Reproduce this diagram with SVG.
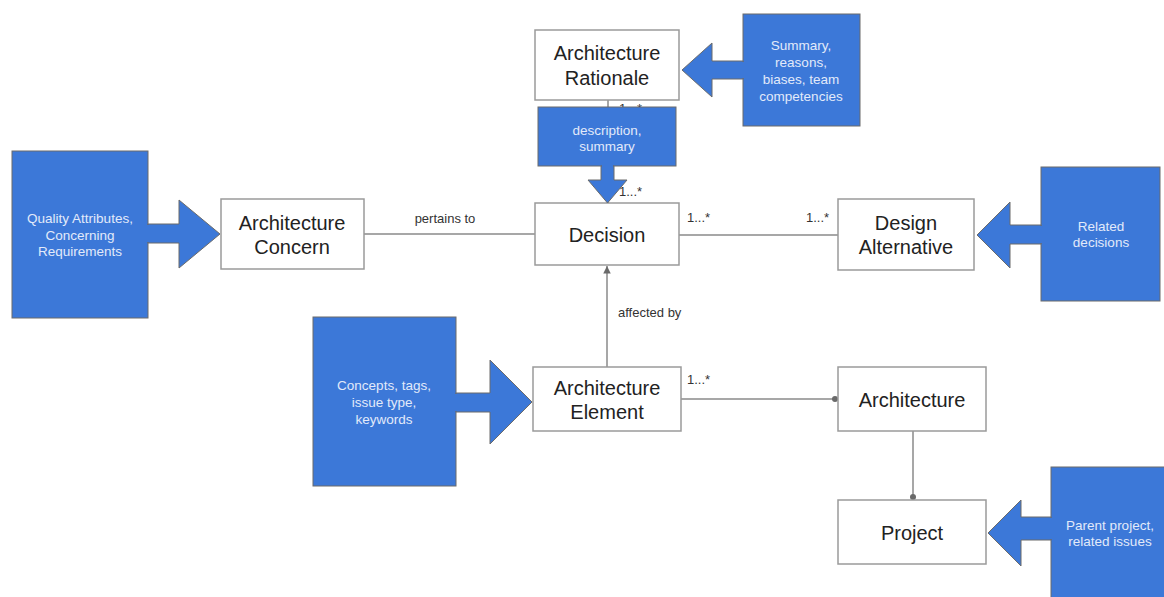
<svg xmlns="http://www.w3.org/2000/svg" width="1164" height="597" viewBox="0 0 1164 597">
  <style>
    .node { fill: #ffffff; stroke: #9a9a9a; stroke-width: 1.5; }
    .label { font-family: "Liberation Sans", Arial, sans-serif; font-size: 20px; fill: #222222; text-anchor: middle; }
    .note { fill: #3c78d8; stroke: #6b6b6b; stroke-width: 1; }
    .note-text { font-family: "Liberation Sans", Arial, sans-serif; font-size: 13.5px; fill: #e2eafa; text-anchor: middle; }
    .link { stroke: #8a8a8a; stroke-width: 1.5; fill: none; }
    .small { font-family: "Liberation Sans", Arial, sans-serif; font-size: 13px; fill: #333333; }
  </style>
  <defs>
    <marker id="tri" viewBox="0 0 10 10" refX="10" refY="5" markerWidth="5" markerHeight="6" orient="auto">
      <path d="M0,0 L10,5 L0,10 z" fill="#6a6a6a"/>
    </marker>
    <marker id="dot" viewBox="0 0 10 10" refX="5" refY="5" markerWidth="5" markerHeight="5" orient="auto">
      <circle cx="5" cy="5" r="4" fill="#6a6a6a"/>
    </marker>
  </defs>
  <rect width="1164" height="597" fill="#ffffff"/>

  <!-- connectors -->
  <g id="connectors">
    <line class="link" x1="364" y1="234" x2="535" y2="234"/>
    <text class="small" x="445" y="223" text-anchor="middle">pertains to</text>
    <line class="link" x1="608" y1="100" x2="608" y2="203"/>
    <text class="small" x="619" y="113">1...*</text>
    <text class="small" x="619" y="196">1...*</text>
    <line class="link" x1="679" y1="235" x2="838" y2="235"/>
    <text class="small" x="687" y="222">1...*</text>
    <text class="small" x="806" y="222">1...*</text>
    <line class="link" x1="607" y1="367" x2="607" y2="266" marker-end="url(#tri)"/>
    <text class="small" x="618" y="317">affected by</text>
    <line class="link" x1="681" y1="399" x2="835" y2="399" marker-end="url(#dot)"/>
    <text class="small" x="687" y="384">1...*</text>
    <line class="link" x1="913" y1="431" x2="913" y2="497" marker-end="url(#dot)"/>
  </g>

  <!-- core nodes -->
  <g id="architecture-rationale">
    <rect class="node" x="535" y="30" width="144" height="70"/>
    <text class="label" x="607" y="60">Architecture</text>
    <text class="label" x="607" y="85">Rationale</text>
  </g>
  <g id="decision">
    <rect class="node" x="535" y="203" width="144" height="62"/>
    <text class="label" x="607" y="242">Decision</text>
  </g>
  <g id="architecture-concern">
    <rect class="node" x="221" y="199" width="143" height="70"/>
    <text class="label" x="292" y="230">Architecture</text>
    <text class="label" x="292" y="254">Concern</text>
  </g>
  <g id="design-alternative">
    <rect class="node" x="838" y="199" width="136" height="71"/>
    <text class="label" x="906" y="230">Design</text>
    <text class="label" x="906" y="254">Alternative</text>
  </g>
  <g id="architecture-element">
    <rect class="node" x="533" y="367" width="148" height="64"/>
    <text class="label" x="607" y="395">Architecture</text>
    <text class="label" x="607" y="419">Element</text>
  </g>
  <g id="architecture">
    <rect class="node" x="838" y="367" width="148" height="64"/>
    <text class="label" x="912" y="407">Architecture</text>
  </g>
  <g id="project">
    <rect class="node" x="838" y="500" width="148" height="64"/>
    <text class="label" x="912" y="540">Project</text>
  </g>

  <!-- annotation blocks with block arrows -->
  <g id="note-concern">
    <rect class="note" x="12" y="151" width="136" height="167"/>
    <polygon class="note" points="148,224 179,224 179,200 220,234 179,268 179,243 148,243"/>
    <rect x="146" y="225" width="4" height="17" fill="#3c78d8"/>
    <text class="note-text" x="80" y="223">Quality Attributes,</text>
    <text class="note-text" x="80" y="240">Concerning</text>
    <text class="note-text" x="80" y="256">Requirements</text>
  </g>
  <g id="note-element">
    <rect class="note" x="313" y="317" width="143" height="169"/>
    <polygon class="note" points="456,393 490,393 490,360 532,402 490,444 490,412 456,412"/>
    <rect x="454" y="394" width="4" height="17" fill="#3c78d8"/>
    <text class="note-text" x="384" y="390">Concepts, tags,</text>
    <text class="note-text" x="384" y="407">issue type,</text>
    <text class="note-text" x="384" y="424">keywords</text>
  </g>
  <g id="note-rationale">
    <rect class="note" x="743" y="14" width="117" height="112"/>
    <polygon class="note" points="743,61 712,61 712,43 682,70 712,97 712,79 743,79"/>
    <rect x="741" y="62" width="4" height="16" fill="#3c78d8"/>
    <text class="note-text" x="801" y="50">Summary,</text>
    <text class="note-text" x="801" y="67">reasons,</text>
    <text class="note-text" x="801" y="84">biases, team</text>
    <text class="note-text" x="801" y="101">competencies</text>
  </g>
  <g id="note-description">
    <rect class="note" x="538" y="107" width="138" height="59"/>
    <polygon class="note" points="601,166 601,180 588,180 607.5,203 627,180 614,180 614,166"/>
    <rect x="602" y="164" width="11" height="4" fill="#3c78d8"/>
    <text class="note-text" x="607" y="135">description,</text>
    <text class="note-text" x="607" y="151">summary</text>
  </g>
  <g id="note-alternative">
    <rect class="note" x="1041" y="167" width="119" height="134"/>
    <polygon class="note" points="1041,225 1010,225 1010,202 977,235 1010,268 1010,244 1041,244"/>
    <rect x="1039" y="226" width="4" height="17" fill="#3c78d8"/>
    <text class="note-text" x="1101" y="231">Related</text>
    <text class="note-text" x="1101" y="247">decisions</text>
  </g>
  <g id="note-project">
    <rect class="note" x="1051" y="467" width="125" height="140"/>
    <polygon class="note" points="1051,517 1021,517 1021,500 988,533 1021,566 1021,540 1051,540"/>
    <rect x="1049" y="518" width="4" height="21" fill="#3c78d8"/>
    <text class="note-text" x="1110" y="530">Parent project,</text>
    <text class="note-text" x="1110" y="546">related issues</text>
  </g>
</svg>
